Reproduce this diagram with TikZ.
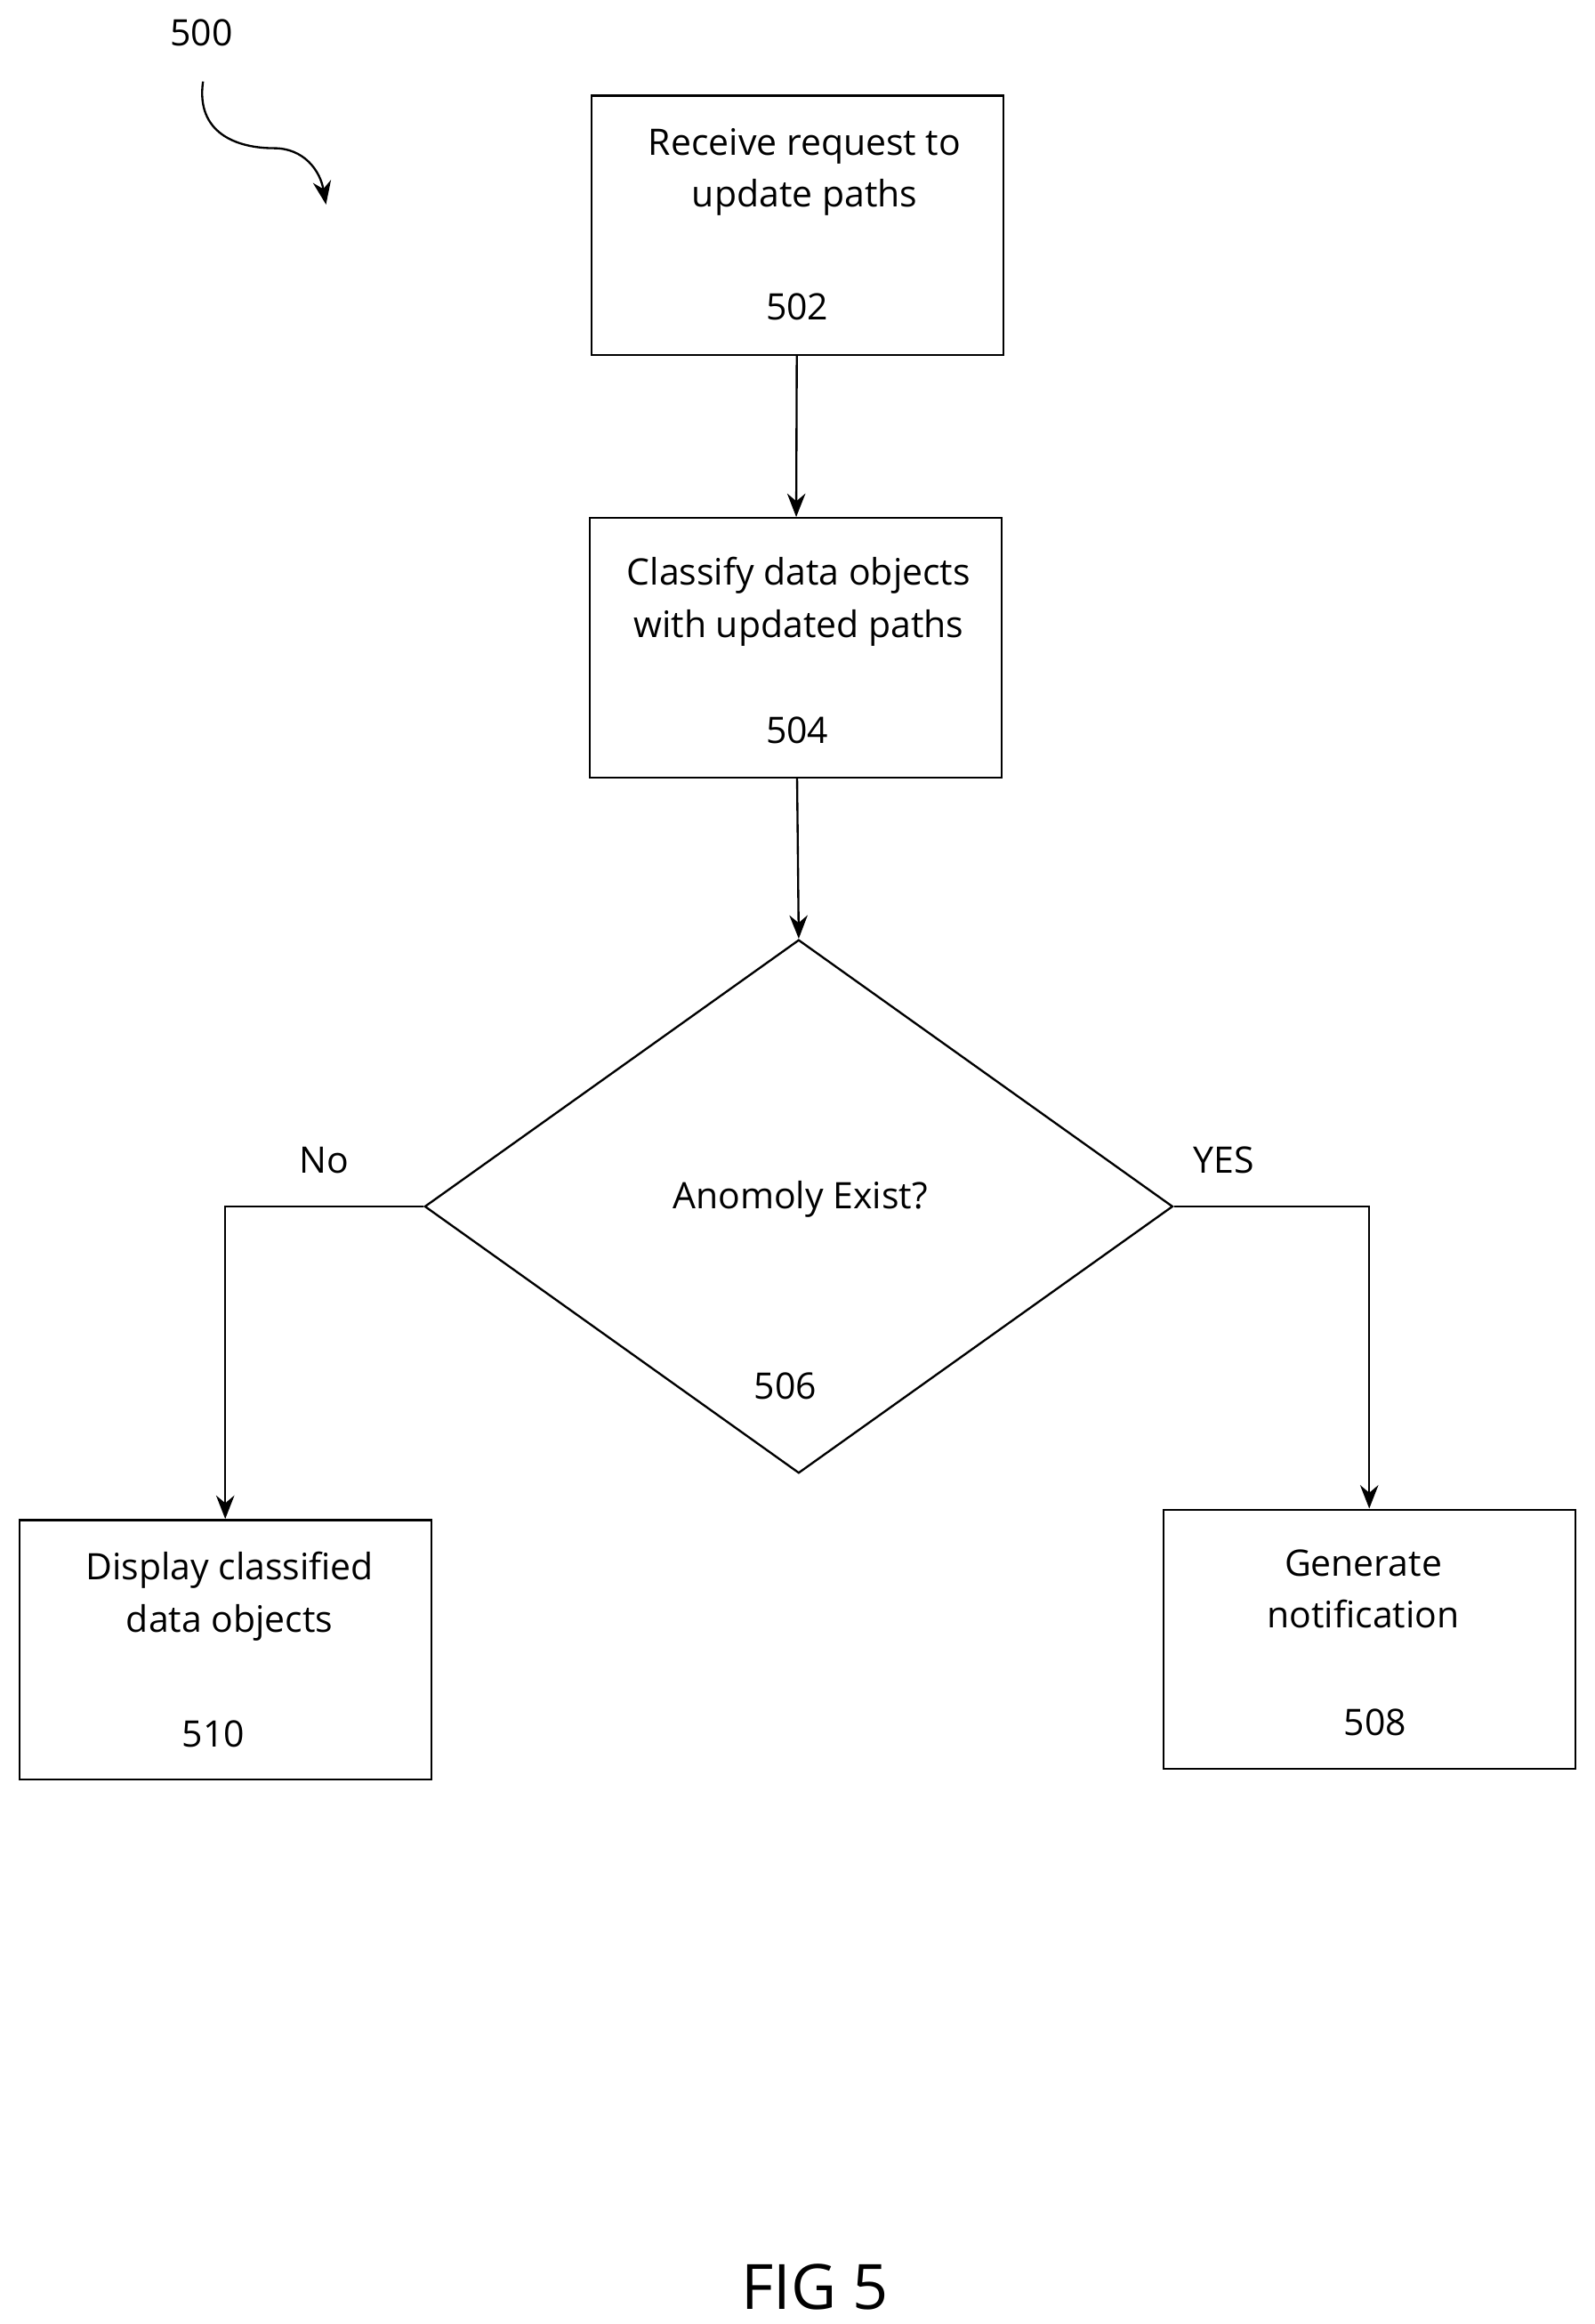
\documentclass[tikz,border=0pt]{standalone}
\usepackage{fontspec}
\setmainfont{Open Sans}
\usetikzlibrary{arrows.meta,shapes.geometric}
\tikzset{
  stepbox/.style={draw,thick,minimum width=5.56cm,minimum height=3.5cm,inner sep=0pt},
  txt/.style={font=\fontsize{14}{20}\selectfont,align=center,inner sep=0pt},
  flow/.style={thick,-{Stealth[length=9pt,width=7pt]}}
}
\begin{document}
\begin{tikzpicture}[x=0.02cm,y=-0.02cm]
\useasboundingbox (0,0) rectangle (1076,1568);
% boxes
\node[stepbox] (s502) at (538,152) {};
\node[stepbox] (s504) at (537,437) {};
\node[draw,thick,diamond,minimum width=10.1cm,minimum height=7.2cm,inner sep=0pt] (d506) at (539,814) {};
\node[stepbox] (s510) at (152,1113) {};
\node[stepbox] (s508) at (924,1106) {};
% texts
\node[txt] at (543,116) {Receive request to\\update paths};
\node[txt] at (538,207) {502};
\node[txt] at (539,406) {Classify data objects\\with updated paths};
\node[txt] at (538,493) {504};
\node[txt] at (540,809) {Anomoly Exist?};
\node[txt] at (530,935) {506};
\node[txt] at (155,1077) {Display classified\\data objects};
\node[txt] at (144,1170) {510};
\node[txt] at (920,1072) {Generate\\notification};
\node[txt] at (928,1162) {508};
\node[txt] at (219,783) {No};
\node[txt] at (826,783) {YES};
\node[txt] (n500) at (136,22) {500};
\node[font=\fontsize{24}{28}\selectfont,inner sep=0pt] (fig) at (550,1543) {FIG 5};
% connectors
\draw[flow] (s502) -- (s504);
\draw[flow] (s504) -- (d506.north);
\draw[flow] (d506.west) -| (s510.north);
\draw[flow] (d506.east) -| (s508.north);
\draw[thick,-{Stealth[length=9pt,width=7pt]}] (137,55) .. controls (132,90) and (160,100) .. (185,100) .. controls (205,100) and (216,115) .. (220,138);
\end{tikzpicture}
\end{document}
